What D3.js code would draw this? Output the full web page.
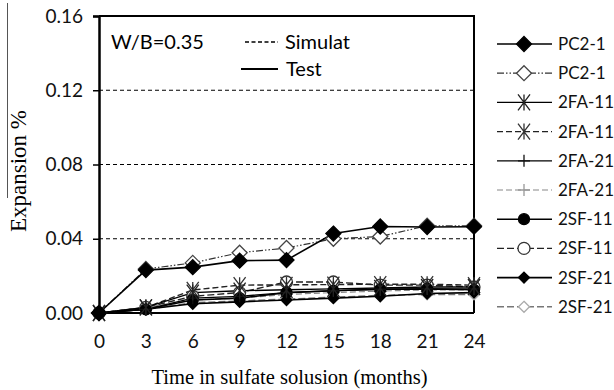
<!DOCTYPE html>
<html>
<head>
<meta charset="utf-8">
<script src="https://cdnjs.cloudflare.com/ajax/libs/d3/7.8.5/d3.min.js"></script>
<style>
  body { margin: 0; background: #fff; }
  svg { display: block; }
</style>
</head>
<body>
<svg id="chart" width="614" height="390"></svg>
<script>
// Data
const months = [0, 3, 6, 9, 12, 15, 18, 21, 24];
const yTicks = [0, 0.04, 0.08, 0.12, 0.16];
const gridTicks = [0.04, 0.08, 0.12];

const pc21Test  = [0, 0.0231, 0.0247, 0.0282, 0.0285, 0.0428, 0.0466, 0.0463, 0.0465];
const pc21Sim   = [0, 0.0237, 0.0270, 0.0325, 0.0350, 0.0400, 0.0412, 0.0470, 0.0470];
const fa11Test  = [0, 0.0030, 0.0110, 0.0120, 0.0125, 0.0130, 0.0135, 0.0140, 0.0140];
const fa11Sim   = [0, 0.0030, 0.0124, 0.0150, 0.0152, 0.0153, 0.0155, 0.0155, 0.0150];
const fa21Test  = [0, 0.0020, 0.0080, 0.0090, 0.0110, 0.0120, 0.0128, 0.0130, 0.0130];
const fa21Sim   = [0, 0.0030, 0.0070, 0.0080, 0.0100, 0.0110, 0.0118, 0.0125, 0.0125];
const sf11Test  = [0, 0.0020, 0.0070, 0.0080, 0.0110, 0.0120, 0.0128, 0.0130, 0.0125];
const sf11Sim   = [0, 0.0030, 0.0090, 0.0110, 0.0167, 0.0167, 0.0150, 0.0150, 0.0140];
const sf21Test  = [0, 0.0020, 0.0050, 0.0060, 0.0070, 0.0080, 0.0090, 0.0105, 0.0110];
const sf21Sim   = [0, 0.0020, 0.0055, 0.0065, 0.0075, 0.0085, 0.0095, 0.0100, 0.0100];

const seriesNames = ["PC2-1", "PC2-1", "2FA-11", "2FA-11", "2FA-21", "2FA-21", "2SF-11", "2SF-11", "2SF-21", "2SF-21"];
const seriesValues = [pc21Test, pc21Sim, fa11Test, fa11Sim, fa21Test, fa21Sim, sf11Test, sf11Sim, sf21Test, sf21Sim];

// styles per series
const styles = [
    { marker: "diamond", fill: "#000", stroke: "#000", size: 7.5, dash: null, lineColor: "#000", width: 1.6 },
    { marker: "diamond", fill: "#fff", stroke: "#444", size: 7.5, dash: "7,2,1.5,2,1.5,2", lineColor: "#333", width: 1.2 },
    { marker: "asterisk", fill: "none", stroke: "#222", size: 8, dash: null, lineColor: "#000", width: 1.4 },
    { marker: "asterisk", fill: "none", stroke: "#333", size: 8, dash: "6,3", lineColor: "#222", width: 1.4 },
    { marker: "plus", fill: "none", stroke: "#111", size: 6, dash: null, lineColor: "#000", width: 1.3 },
    { marker: "plus", fill: "none", stroke: "#999", size: 6, dash: "6,3", lineColor: "#888", width: 1.2 },
    { marker: "circle", fill: "#000", stroke: "#000", size: 5.5, dash: null, lineColor: "#000", width: 1.6 },
    { marker: "circle", fill: "#fff", stroke: "#333", size: 6, dash: "7,3", lineColor: "#222", width: 1.4 },
    { marker: "diamond", fill: "#000", stroke: "#000", size: 5.5, dash: null, lineColor: "#000", width: 1.6 },
    { marker: "diamond", fill: "#fff", stroke: "#aaa", size: 5.5, dash: "7,3", lineColor: "#777", width: 1.4 },
];

const dimensions = {
    width: 614,
    height: 390,
    margin: { top: 16, bottom: 77, left: 99, right: 140 },
};

const svg = d3.select("#chart");

const xScale = d3.scaleLinear()
    .domain([0, 24])
    .range([dimensions.margin.left, dimensions.width - dimensions.margin.right]);

const yScale = d3.scaleLinear()
    .domain([0, 0.16])
    .range([dimensions.height - dimensions.margin.bottom, dimensions.margin.top]);

const x0 = xScale(0), x1 = xScale(24), y0 = yScale(0), y1 = yScale(0.16);

// marker path builder
function markerPath(type, s) {
    if (type === "diamond") return `M0,${-s}L${s},0L0,${s}L${-s},0Z`;
    if (type === "circle") return d3.symbol(d3.symbolCircle, Math.PI * s * s)();
    if (type === "plus") return `M${-s},0L${s},0M0,${-s}L0,${s}`;
    if (type === "asterisk") {
        const d = s * 0.75;
        return `M${-d},${-s}L${d},${s}M${d},${-s}L${-d},${s}M0,${-s}L0,${s}`;
    }
}

// grid lines
svg.append("g")
    .selectAll("line")
    .data(gridTicks)
    .join("line")
    .attr("x1", x0).attr("x2", x1)
    .attr("y1", d => yScale(d)).attr("y2", d => yScale(d))
    .attr("stroke", "#000")
    .attr("stroke-width", 1.2)
    .attr("stroke-dasharray", "4,3");

// plot frame
svg.append("path")
    .attr("d", `M${x0},${y1}L${x1},${y1}L${x1},${y0}`)
    .attr("fill", "none")
    .attr("stroke", "#000")
    .attr("stroke-width", 2);
svg.append("line")
    .attr("x1", x0).attr("x2", x1).attr("y1", y0).attr("y2", y0)
    .attr("stroke", "#000").attr("stroke-width", 2);

// Y axis
const yAxis = svg.append("g")
    .attr("transform", `translate(${x0},0)`)
    .call(d3.axisLeft(yScale).tickValues(yTicks).tickFormat(d3.format(".2f")).tickSize(6).tickPadding(10));
yAxis.select(".domain").attr("stroke-width", 2.5);
yAxis.selectAll(".tick line").attr("stroke-width", 1.5);
yAxis.selectAll("text")
    .style("font-family", "Lato, 'Open Sans', sans-serif")
    .style("font-size", "19px")
    .attr("fill", "#111");

// X axis labels
const xAxis = svg.append("g")
    .attr("transform", `translate(0,${y0})`)
    .call(d3.axisBottom(xScale).tickValues(months).tickSize(0).tickPadding(22));
xAxis.select(".domain").remove();
xAxis.selectAll("text")
    .style("font-family", "Lato, 'Open Sans', sans-serif")
    .style("font-size", "19px")
    .attr("fill", "#111");

// axis titles
svg.append("text")
    .attr("x", (x0 + x1) / 2 + 3)
    .attr("y", 384)
    .attr("text-anchor", "middle")
    .style("font-family", "'Liberation Serif', 'DejaVu Serif', serif")
    .style("font-size", "20.5px")
    .text("Time in sulfate solusion (months)");

svg.append("text")
    .attr("transform", "translate(26,171) rotate(-90)")
    .attr("text-anchor", "middle")
    .style("font-family", "'Liberation Serif', 'DejaVu Serif', serif")
    .style("font-size", "23px")
    .text("Expansion %");

svg.append("line")
    .attr("x1", 7.5).attr("x2", 7.5).attr("y1", 3).attr("y2", 198)
    .attr("stroke", "#555").attr("stroke-width", 1);

// series lines
const line = d3.line()
    .x((d, i) => xScale(months[i]))
    .y(d => yScale(d));

const order = [9, 7, 5, 3, 1, 8, 6, 4, 2, 0];
order.forEach(k => {
    const st = styles[k];
    svg.append("path")
        .datum(seriesValues[k])
        .attr("d", line)
        .attr("fill", "none")
        .attr("stroke", st.lineColor)
        .attr("stroke-width", st.width)
        .attr("stroke-dasharray", st.dash);
});
order.forEach(k => {
    const st = styles[k];
    svg.append("g")
        .selectAll("path")
        .data(seriesValues[k])
        .join("path")
        .attr("transform", (d, i) => `translate(${xScale(months[i])},${yScale(d)})`)
        .attr("d", markerPath(st.marker, st.size))
        .attr("fill", st.fill)
        .attr("stroke", st.stroke)
        .attr("stroke-width", 1.3);
});

// in-plot legend
const noteFont = "Lato, 'Open Sans', sans-serif";
svg.append("text")
    .attr("x", 111).attr("y", 49)
    .style("font-family", noteFont).style("font-size", "20px")
    .text("W/B=0.35");
svg.append("line")
    .attr("x1", 245).attr("x2", 278).attr("y1", 42).attr("y2", 42)
    .attr("stroke", "#000").attr("stroke-width", 1.4).attr("stroke-dasharray", "4,2.5");
svg.append("text")
    .attr("x", 285).attr("y", 49)
    .style("font-family", noteFont).style("font-size", "20px")
    .text("Simulat");
svg.append("line")
    .attr("x1", 241).attr("x2", 278).attr("y1", 69).attr("y2", 69)
    .attr("stroke", "#000").attr("stroke-width", 2.2);
svg.append("text")
    .attr("x", 286).attr("y", 76)
    .style("font-family", noteFont).style("font-size", "20px")
    .text("Test");

// right legend
const legend = svg.append("g");
seriesNames.forEach((name, k) => {
    const st = styles[k];
    const ly = 44 + k * 29.2;
    legend.append("line")
        .attr("x1", 497).attr("x2", 552).attr("y1", ly).attr("y2", ly)
        .attr("stroke", st.lineColor)
        .attr("stroke-width", st.width)
        .attr("stroke-dasharray", st.dash);
    legend.append("path")
        .attr("transform", `translate(524,${ly})`)
        .attr("d", markerPath(st.marker, st.size))
        .attr("fill", st.fill)
        .attr("stroke", st.stroke)
        .attr("stroke-width", 1.3);
    legend.append("text")
        .attr("x", 558).attr("y", ly + 6)
        .style("font-family", noteFont).style("font-size", "17px")
        .attr("fill", "#111")
        .text(name);
});
</script>
</body>
</html>
